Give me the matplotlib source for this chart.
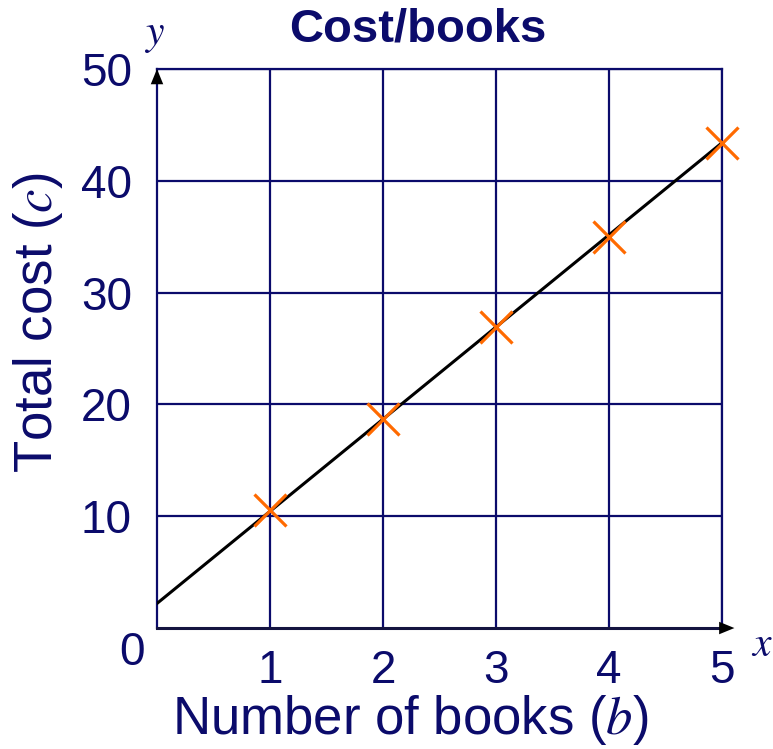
import numpy as np
import matplotlib.pyplot as plt

plt.rcParams['font.family'] = ['Liberation Sans', 'DejaVu Sans']
plt.rcParams['mathtext.fontset'] = 'stix'

navy = '#0b0b6b'
orange = '#ff6a00'

books = [1, 2, 3, 4, 5]
cost = [10.6, 18.7, 26.9, 35.0, 43.4]
fit_x = [0, 5]
fit_y = [2.2, 43.4]
xticks = [1, 2, 3, 4, 5]
yticks = [10, 20, 30, 40, 50]

fig = plt.figure(figsize=(7.73, 7.49), dpi=100)
ax = fig.add_axes([0.2031, 0.1615, 0.7309, 0.7464])

ax.set_xlim(0, 5)
ax.set_ylim(0, 50)
ax.set_xticks(xticks)
ax.set_yticks(yticks)
ax.tick_params(length=0, labelsize=33, labelcolor=navy)
ax.tick_params(axis='x', pad=15)
ax.tick_params(axis='y', pad=18)
ax.grid(True, color=navy, linewidth=1.6)
for s in ax.spines.values():
    s.set_color(navy)
    s.set_linewidth(1.6)
ax.spines['bottom'].set_color('#141440')
ax.spines['bottom'].set_linewidth(2.2)

# line of best fit + data
ax.plot(fit_x, fit_y, color='black', linewidth=2.2, zorder=3)
ax.plot(books, cost, 'x', color=orange, markersize=23, markeredgewidth=2.3,
        zorder=4, clip_on=False)

# arrows on axes
ax.annotate('', xy=(0, 50), xytext=(0, 46), annotation_clip=False,
            arrowprops=dict(arrowstyle='-|>,head_width=0.45,head_length=1.1',
                            color='black', lw=0, shrinkA=0, shrinkB=0))
ax.annotate('', xy=(5.11, 0), xytext=(4.7, 0), annotation_clip=False,
            arrowprops=dict(arrowstyle='-|>,head_width=0.45,head_length=1.1',
                            color='black', lw=0, shrinkA=0, shrinkB=0))

ax.text(-0.021, -0.045, '0', transform=ax.transAxes, fontsize=33,
        color=navy, ha='right', va='center')
ax.text(-0.005, 1.06, '$y$', transform=ax.transAxes, fontsize=30,
        color=navy, ha='center', va='center')
ax.text(1.07, -0.03, '$x$', transform=ax.transAxes, fontsize=30,
        color=navy, ha='center', va='center')

ax.text(0.462, 1.07, 'Cost/books', transform=ax.transAxes, fontsize=34,
        fontweight='bold', color=navy, ha='center', va='center')
ax.text(0.448, -0.165, 'Number of books ($b$)', transform=ax.transAxes,
        fontsize=38, color=navy, ha='center', va='center')
ax.text(-0.21, 0.547, 'Total cost ($c$)', transform=ax.transAxes,
        fontsize=38, color=navy, ha='center', va='center', rotation=90)

fig.savefig('out.png', dpi=100)
